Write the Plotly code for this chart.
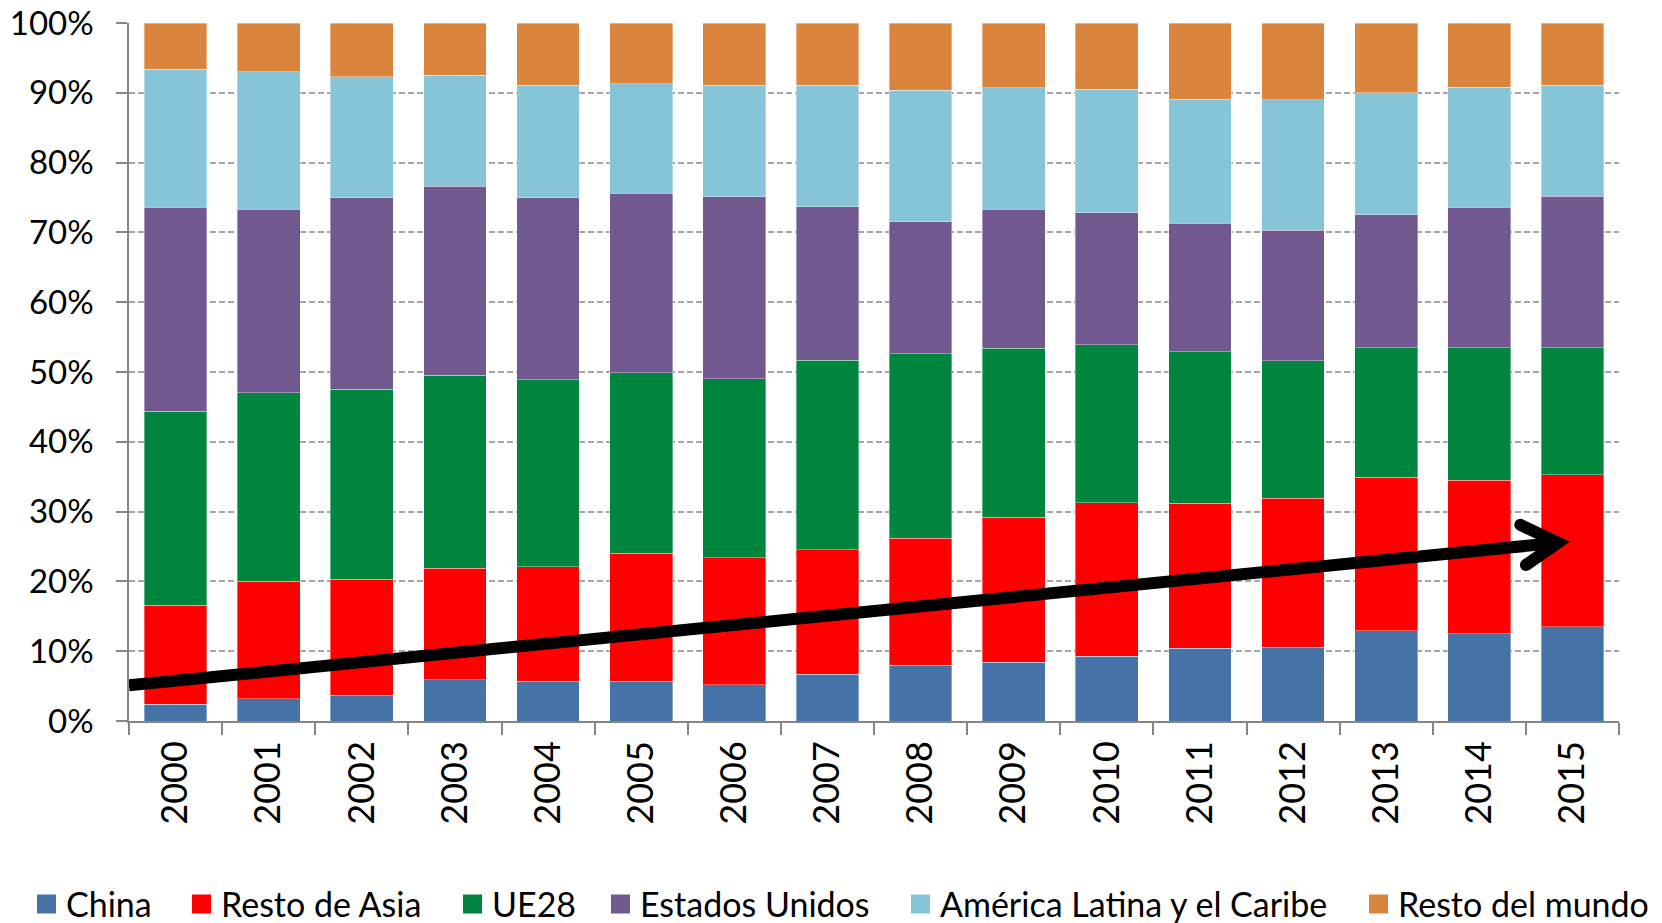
import plotly.graph_objects as go

years = [str(y) for y in range(2000, 2016)]
china = [2.4, 3.2, 3.7, 5.9, 5.7, 5.7, 5.2, 6.7, 8.0, 8.4, 9.3, 10.4, 10.6, 12.9, 12.5, 13.5]
resto_asia = [14.2, 16.8, 16.6, 16.0, 16.4, 18.3, 18.2, 17.8, 18.2, 20.8, 22.0, 20.8, 21.3, 22.0, 22.0, 21.8]
ue28 = [27.8, 27.0, 27.2, 27.6, 26.8, 25.9, 25.6, 27.2, 26.4, 24.2, 22.6, 21.7, 19.7, 18.6, 19.0, 18.2]
eeuu = [29.2, 26.3, 27.5, 27.1, 26.1, 25.7, 26.1, 22.0, 18.9, 19.9, 18.9, 18.4, 18.7, 19.0, 20.1, 21.7]
alc = [19.8, 19.7, 17.3, 15.9, 16.1, 15.7, 16.0, 17.4, 18.9, 17.4, 17.7, 17.8, 18.7, 17.5, 17.2, 15.9]
resto_mundo = [6.6, 7.0, 7.7, 7.5, 8.9, 8.7, 8.9, 8.9, 9.6, 9.3, 9.5, 10.9, 11.0, 10.0, 9.2, 8.9]

series_names = ["China", "Resto de Asia", "UE28", "Estados Unidos",
                "América Latina y el Caribe", "Resto del mundo"]
series_values = [china, resto_asia, ue28, eeuu, alc, resto_mundo]
colors = ["#4572A7", "#FF0000", "#00853F", "#71588F", "#86C4D7", "#DB843D"]
y_ticks = list(range(0, 101, 10))
y_tick_labels = [f"{v}%" for v in y_ticks]

FONT = "Lato"
W, H = 1662, 923
ML, MR, MT, MB = 129, 43, 23, 202
PW, PH = W - ML - MR, H - MT - MB

def px_x(px):
    return (px - ML) / PW

def px_y(py):
    return (H - MB - py) / PH

fig = go.Figure()
for name, vals, col in zip(series_names, series_values, colors):
    fig.add_trace(go.Bar(
        x=years, y=vals, name=name, showlegend=False,
        marker=dict(color=col, line=dict(color="rgba(255,255,255,0.45)", width=0.8)),
    ))

# trend arrow (annotation drawn as shapes, in category-index / percent units)
ARROW_W = 12
arrow_start = (-0.5, 5.1)
arrow_tip = (14.845, 25.55)
arm_up = (14.44, 28.1)
arm_down = (14.50, 22.35)
fig.add_shape(type="line", xref="x", yref="y",
              x0=arrow_start[0], y0=arrow_start[1], x1=arrow_tip[0], y1=arrow_tip[1],
              line=dict(color="black", width=ARROW_W))
fig.add_shape(type="path", xref="x", yref="y",
              path=f"M {arm_up[0]},{arm_up[1]} L {arrow_tip[0]},{arrow_tip[1]} L {arm_down[0]},{arm_down[1]}",
              line=dict(color="black", width=ARROW_W))
for ax_, ay_ in (arm_up, arm_down):
    fig.add_shape(type="circle", xref="x", yref="y", xsizemode="pixel", ysizemode="pixel",
                  xanchor=ax_, yanchor=ay_,
                  x0=-ARROW_W / 2, x1=ARROW_W / 2, y0=-ARROW_W / 2, y1=ARROW_W / 2,
                  fillcolor="black", line=dict(width=0))

# legend (boxes + labels) below the chart
legend_box_px = [37, 192, 463, 611, 911, 1369]
BOX = 19
LEG_Y = 904
for name, col, bx in zip(series_names, colors, legend_box_px):
    fig.add_shape(type="rect", xref="paper", yref="paper",
                  x0=px_x(bx), x1=px_x(bx + BOX),
                  y0=px_y(LEG_Y + BOX / 2), y1=px_y(LEG_Y - BOX / 2),
                  fillcolor=col, line=dict(width=0))
    fig.add_annotation(xref="paper", yref="paper", x=px_x(bx + BOX + 8), y=px_y(LEG_Y - 1),
                       xanchor="left", yanchor="middle", text=name, showarrow=False,
                       font=dict(family=FONT, size=34, color="black"))

fig.update_layout(
    template="none",
    width=W, height=H,
    barmode="stack", bargap=0.325,
    plot_bgcolor="white", paper_bgcolor="white",
    margin=dict(l=ML, r=MR, t=MT, b=MB, pad=0),
    font=dict(family=FONT, size=33, color="black"),
    showlegend=False,
    xaxis=dict(
        type="category", range=[-0.5, 15.5], tickangle=-90, tickson="boundaries",
        automargin=False,
        ticks="outside", ticklen=12, tickcolor="#868686", tickwidth=1.5,
        showline=True, linecolor="#868686", linewidth=1.5,
        showgrid=False, zeroline=False, ticklabelstandoff=4,
        tickfont=dict(family=FONT, size=36, color="black"),
    ),
    yaxis=dict(
        range=[0, 100], tickvals=y_ticks, ticktext=y_tick_labels, automargin=False,
        ticks="outside", ticklen=11, tickcolor="#868686", tickwidth=1.5,
        showline=True, linecolor="#868686", linewidth=1.5,
        showgrid=True, gridcolor="#A6A6A6", gridwidth=1.5, griddash="6px,3px",
        zeroline=False, ticklabelstandoff=16,
        tickfont=dict(family=FONT, size=33, color="black"),
    ),
)

fig.write_html("out.html", config={"displayModeBar": False},
               post_script="document.body.style.margin='0';document.body.style.overflow='hidden';")
